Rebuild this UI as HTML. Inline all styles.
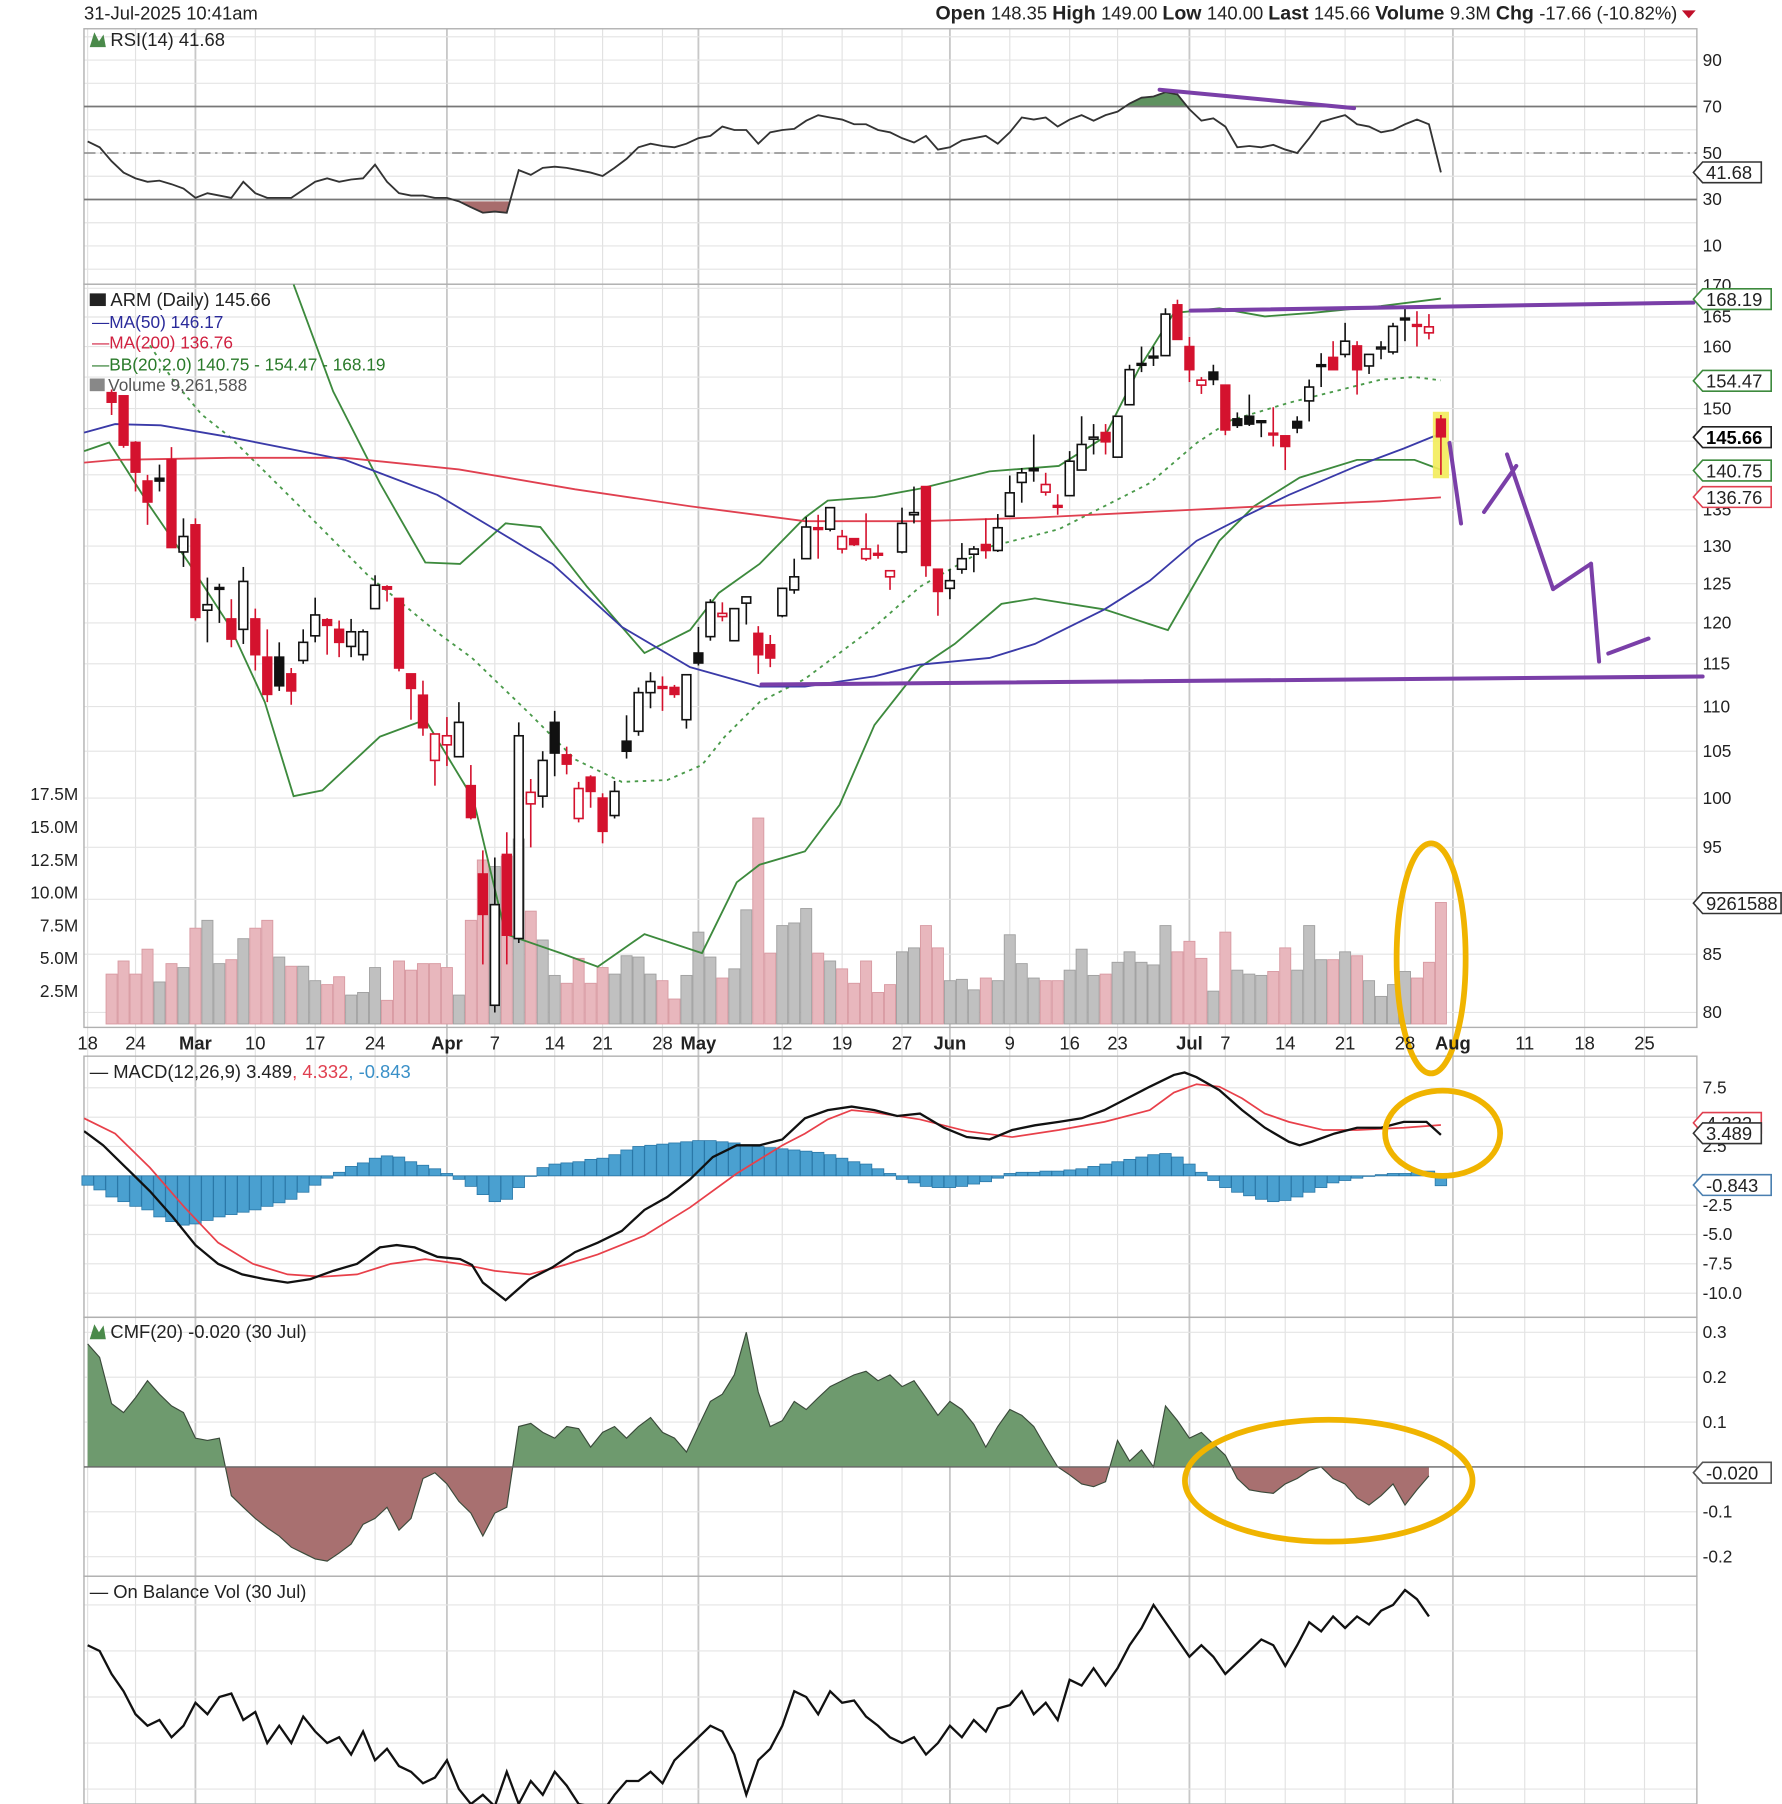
<!DOCTYPE html>
<html><head><meta charset="utf-8"><title>ARM Daily Chart</title>
<style>
html,body{margin:0;padding:0;background:#fff;}
svg{display:block;font-family:"Liberation Sans",sans-serif;}
</style></head>
<body>
<svg id="chart" width="1782" height="1804" viewBox="0 0 1549 1568" preserveAspectRatio="none" xmlns="http://www.w3.org/2000/svg">
<defs>
<clipPath id="clipPrice"><rect x="73" y="247" width="1402" height="646"/></clipPath>
<clipPath id="clipRSI"><rect x="73" y="25" width="1402" height="222"/></clipPath>
<clipPath id="clipMACD"><rect x="73" y="918" width="1402" height="227"/></clipPath>
<clipPath id="clipOBV"><rect x="73" y="1370" width="1402" height="198"/></clipPath>
<clipPath id="rsiHi"><rect x="73" y="25" width="1402" height="68"/></clipPath>
<clipPath id="rsiLo"><rect x="73" y="175" width="1402" height="72"/></clipPath>
<clipPath id="cmfPos"><rect x="73" y="1145" width="1402" height="130"/></clipPath>
<clipPath id="cmfNeg"><rect x="73" y="1275" width="1402" height="95"/></clipPath>
</defs>
<rect x="0" y="0" width="1549" height="1568" fill="#fff"/>
<g id="grid"></g>
<g id="layer"></g>
<g id="anno"></g>
<g id="labels"></g>
</svg>
<script>
// ---------- DATA ----------
const opens=[152.5,152,144.8,139.1,139.5,142.2,129.2,132.9,121.6,124.5,
120.5,119.2,120.5,115.8,115.8,113.8,115.4,118.4,120.4,119.2,
117.1,116.1,121.8,124.6,123.1,113.8,111.3,104,105.7,104.4,
101.3,92.4,80.6,94.3,86.4,99.4,100.2,108.2,104.6,97.9,
102.2,100,98.2,106.1,107.2,111.6,112.3,112.2,108.5,116.3,
118.3,120.8,117.8,122.5,118.7,117.3,120.9,124.2,128.3,132.5,
132.3,129.6,131,128.3,129,125.9,129.2,134.3,138.3,126.9,
124.4,126.9,128.9,130.2,129.4,134.1,138.9,140.9,137.5,135.6,
137,140.7,145.3,146.3,142.6,150.6,157.2,158.4,158.5,167.1,
160,153.7,155.8,153.7,148.4,148.8,148.1,146.2,145.8,148,
151.2,157,158.2,158.7,160.1,156.8,159.8,159.1,164.8,163.7,
162.3,148.35];
const highs=[153,152,145,140,141.5,144.1,133.8,133.8,125.8,125,
123,127.2,121.8,119.2,117.6,114.5,119.2,123.2,120.6,120.3,
120.5,119.2,126.1,124.8,123.1,113.8,113,106.9,108.8,110.5,
103.5,94.7,94,96.5,108.2,102,105,109.5,105.5,101.7,
102.4,100.5,101.8,109,112.2,114,113.5,112.5,113.7,119.5,
123,122.6,121.8,123.3,119.6,118.5,124.4,128.3,134,134.3,
135.3,132.2,131,134.5,130.2,126.7,135.3,138.3,138.3,126.9,
126.9,130.4,130,133.8,134.4,139.9,141,146,140.3,137.2,
143.5,148.8,147.6,147.6,148.8,157,160,160,166.5,168,
161.6,155,157,153.7,149.4,152.2,148.2,150.2,145.8,148.8,
154.6,158.9,160.9,164,160.9,158.7,160.9,164,166.5,166,
165.5,149];
const lows=[149,144,137.6,132.9,137.6,129.8,127.2,120.3,117.6,120,
117,117.4,114.2,110.5,111.8,110.2,115,117.6,116.1,115.8,
115.8,115.4,121.8,122.7,114.1,108.5,106.7,101.3,103.4,104.4,
97.8,84.1,80,84.1,86,95,99,102.3,102.5,97.5,
99,95.4,97.9,104.2,106.7,109.8,109.5,111,107.5,114.8,
117.8,120.2,117.8,119.8,113.8,114.6,120.7,123.7,128.3,128.3,
132,129,130,128,128.3,124.2,129,133.1,125.9,120.9,
123,126.3,126.5,128.3,129.2,134,136,139,137,134.3,
137,141,143,143,142.6,150.6,155.8,156.8,158.5,161.2,
154.2,152.3,153.7,145.9,147,147.3,145.6,144.2,140.7,146.2,
148,153.4,156.2,158.2,152.2,155.5,157.9,158.7,160.9,160,
161.2,140];
const closes=[151,144.4,140.4,136.1,139.1,129.8,131.3,120.7,122.3,124.5,
118,125.3,116.1,111.4,112.4,111.8,117.6,121,119.7,117.6,
118.9,118.9,124.8,124.3,114.5,112.1,107.6,106.9,106.7,108.2,
98,88.6,89.5,86.7,106.7,100.6,104,104.8,103.6,101,
100.7,96.6,100.7,105,111.6,112.9,112.2,111.4,113.7,115.1,
122.6,121.2,121.8,123.3,116.1,115.7,124.4,125.9,132.6,132.3,
135.3,131.3,130.2,129.6,128.9,126.7,133.1,134.6,127.4,124,
125.4,128.3,129.6,129.4,132.5,137.4,140.3,140.6,138.6,135.4,
142,144.5,145.6,144.9,148.8,156.2,157,158.2,165.5,161.2,
156.2,154.5,154.6,146.7,147.4,147.6,148,146,144.2,147,
153.4,156.8,156.2,160.9,156.2,158.7,159.9,163.4,164.7,163.5,
163.32,145.66];
const volumes=[3.8,4.8,3.8,5.7,3.2,4.6,4.3,7.3,7.9,4.6,
4.9,6.5,7.3,7.9,5.1,4.4,4.4,3.3,3.0,3.6,
2.2,2.4,4.3,1.8,4.8,4.1,4.6,4.6,4.3,2.2,
7.9,12.5,12,12.8,14.1,8.6,6.4,3.7,3.1,5.0,
3.1,4.3,3.8,5.2,5.1,3.8,3.3,1.9,3.7,7.0,
5.1,3.5,4.2,8.7,15.7,5.4,7.5,7.7,8.8,5.4,
4.8,4.2,3.1,4.8,2.4,3.0,5.5,5.8,7.5,5.8,
3.3,3.4,2.6,3.5,3.3,6.8,4.6,3.5,3.3,3.3,
4.1,5.7,3.7,3.8,4.7,5.5,4.7,4.5,7.5,5.5,
6.3,5.0,2.5,7.0,4.1,3.8,3.7,4.0,5.8,4.1,
7.5,4.9,4.9,5.5,5.2,3.3,2.1,3.0,4.0,3.5,
4.7,9.26];
const ma50Days=[-2.3,0.3,4.1,9.9,19.5,27.2,32,36.8,42.6,48.3,54.1,57.9,63.7,67.5,73.3,77.1,82.9,86.7,90.6,94.4,98.3,104,107.9,111];
const ma50Vals=[146.3,147.6,147.4,145.6,142.2,137.1,132.3,127.6,119.5,114.6,112.3,112.3,113.5,114.9,115.7,117.4,121.7,125.4,130.7,133.9,137.1,141.3,143.9,146.17];
const ma200Days=[-2.3,0.3,9.9,19.5,29,38.7,48.3,57.9,67.5,77.1,86.7,96.3,105.9,111];
const ma200Vals=[141.8,142.2,142.5,142.5,140.8,137.9,135.5,133.4,133.4,133.9,134.7,135.5,136.2,136.76];
const bbUpDays=[15.2,18.5,22.4,26.2,29.1,32.9,35.8,39.7,42.6,44.5,48.3,50.7,54.1,57.9,59.8,63.7,67.5,73.3,79.1,82.9,85.8,88.7,92.5,96.3,100.2,106,111];
const bbUpVals=[170.7,152.7,138.8,127.8,127.6,133.1,132.6,124.6,119.5,116.3,119.1,123.8,127.6,133.9,136.3,136.8,138,140.5,141.3,145.6,156.4,165.7,166.5,165.1,165.7,166.9,168.19];
const bbLoDays=[-2.3,-0.2,3.2,6.5,9.9,12.8,15.2,17.6,22.4,26.2,30.2,32.9,37.5,40.6,44.5,49.3,52.2,54.1,57.9,60.8,63.7,67.5,70.4,74.3,77.1,82.9,88.2,92.5,95.4,99.2,104,108.8,111];
const bbLoVals=[143.5,144.8,135.5,127.6,119.5,110.5,100.2,100.8,106.6,108.5,99.9,86.8,85.1,83.9,86.8,85.1,91.6,93.3,94.6,99.3,107.9,114.6,117.4,122.4,123.1,121.7,119.1,130.7,135.5,139.6,142.2,142.2,140.75];
const bbMidDays=[3.2,5.1,7.5,9.9,15.7,21.4,27.2,30.1,34.9,38.7,42.6,46.4,49.3,51.2,54.1,57.9,63.7,67.5,73.3,79.1,82.9,86.7,90.6,93.5,98.3,102.1,106,108.8,111];
const bbMidVals=[160.2,154.6,149.1,145.6,135.5,126.1,118.8,115.7,109.2,104.1,101.7,101.9,103.5,106.6,110.5,113.2,119.5,124.6,129.9,132.3,135.5,138.8,144.7,148.2,150.9,152.7,154.6,155,154.47];
const rsiVals=[55,52.5,46.5,41.6,39.1,37.6,38.1,36.6,34.7,30.7,32.7,31.7,30.7,37.6,32.7,30.7,30.7,30.7,34.2,37.6,39.1,37.6,38.6,39.1,45,37.6,32.7,31.7,31.7,30.7,30.7,29.2,26.7,24.3,24.8,24.3,42.6,40.6,43.6,44.1,43.6,42.6,41.6,40.1,43.6,47.5,52.5,54,53,52.5,54,56.4,57.4,61.4,59.9,59.9,54,58.9,59.9,60.4,63.9,66.3,65.3,64.4,62.4,62.4,59.9,58.9,56.4,54.5,57.4,51.5,52.5,55.4,56.4,57.4,54,58.9,65.3,64.4,65.3,61.4,64.4,66.3,63.9,66.3,67.8,71.3,73.8,74.3,76.2,75.2,68.8,63.9,64.9,61.4,52.5,53,52.5,53.5,51.5,50,56.4,63.4,64.9,66.3,62.4,61.4,58.9,59.9,62.4,64.4,62.4,41.68];
const macdDays=[-2.3,-0.7,1.2,3.2,5.1,7,8.9,10.9,12.8,14.7,16.6,18.5,20.5,22.4,23.8,25.3,27.2,29.1,30.1,31,32.9,34.9,36.8,38.7,40.6,42.6,44.5,46.4,48.3,50.2,52.2,54.1,56,57.9,59.8,61.8,63.7,65.6,67.5,69.5,71.4,73.3,75.2,77.1,79.1,81,82.9,84.8,86.7,88.7,89.6,90.6,92.5,94.4,96.3,98.3,99.2,100.2,102.1,104,106,107.9,109.8,111];
const macdVals=[3.8,2.6,0.7,-1.3,-3.5,-5.9,-7.5,-8.4,-8.8,-9.1,-8.8,-8.1,-7.5,-6.1,-5.9,-6.1,-6.9,-7.1,-7.6,-9.1,-10.6,-8.8,-7.8,-6.5,-5.7,-4.7,-2.9,-1.8,-0.3,1.6,2.6,2.6,3.1,4.9,5.6,5.9,5.6,5.1,5.3,4.1,3.3,3.1,3.9,4.3,4.6,4.9,5.6,6.6,7.6,8.6,8.8,8.4,7.3,5.6,4.1,2.9,2.6,2.9,3.6,4.1,4.1,4.6,4.6,3.489];
const signalDays=[-2.3,0.3,3.2,6.1,8.9,11.8,14.7,17.6,20.5,23.3,26.2,29.1,32,34.9,37.8,40.6,44.5,48.3,52.2,56,57.9,59.8,61.8,63.7,67.5,71.4,75.2,79.1,82.9,86.7,88.7,90.6,92.5,94.4,96.3,98.3,101.2,104,107.9,111];
const signalVals=[4.9,3.6,0.7,-2.7,-5.7,-7.5,-8.4,-8.6,-8.4,-7.5,-7.1,-7.5,-8.1,-8.4,-7.6,-6.7,-5.1,-2.7,0.2,2.6,3.6,4.8,5.6,5.4,4.8,3.8,3.3,3.9,4.6,5.6,7.1,7.8,7.6,6.6,5.3,4.6,3.9,3.9,4.1,4.332];
const histVals=[-0.8,-1.2,-1.8,-2.2,-2.6,-2.9,-3.5,-3.9,-4.2,-4.1,-3.8,-3.5,-3.3,-3.1,-2.9,-2.6,-2.3,-2.0,-1.4,-0.8,-0.2,0.3,0.8,1.1,1.5,1.7,1.6,1.2,0.9,0.6,0.2,-0.3,-0.9,-1.6,-2.2,-2.0,-1.0,0.0,0.7,1.0,1.1,1.2,1.4,1.5,1.8,2.2,2.5,2.6,2.7,2.8,2.9,3.0,3.0,2.9,2.8,2.6,2.5,2.4,2.3,2.2,2.1,2.0,1.8,1.5,1.2,1.0,0.6,0.2,-0.3,-0.6,-0.9,-1.0,-1.0,-0.9,-0.7,-0.5,-0.2,0.2,0.3,0.3,0.4,0.4,0.5,0.6,0.8,1.0,1.2,1.4,1.6,1.8,1.9,1.6,1.0,0.3,-0.4,-1.0,-1.4,-1.7,-2.0,-2.2,-2.1,-1.8,-1.4,-1.0,-0.6,-0.4,-0.2,0.0,0.1,0.2,0.2,0.3,0.4,-0.843];
const cmfVals=[0.274,0.244,0.141,0.121,0.154,0.192,0.162,0.136,0.121,0.064,0.059,0.064,-0.064,-0.09,-0.115,-0.136,-0.154,-0.179,-0.192,-0.205,-0.21,-0.192,-0.172,-0.128,-0.115,-0.09,-0.141,-0.115,-0.026,-0.013,-0.038,-0.077,-0.103,-0.154,-0.103,-0.09,0.09,0.097,0.077,0.064,0.09,0.085,0.044,0.077,0.09,0.064,0.09,0.11,0.077,0.064,0.033,0.09,0.146,0.162,0.205,0.30,0.167,0.09,0.103,0.146,0.128,0.154,0.179,0.192,0.205,0.213,0.192,0.205,0.179,0.192,0.154,0.115,0.146,0.128,0.095,0.044,0.09,0.128,0.115,0.09,0.044,0,-0.018,-0.038,-0.044,-0.033,0.059,0.013,0.038,0,0.136,0.103,0.064,0.077,0.051,0.026,-0.026,-0.051,-0.056,-0.059,-0.038,-0.026,-0.008,0,-0.026,-0.038,-0.069,-0.085,-0.064,-0.038,-0.085,-0.051,-0.02];
const obvVals=[35,32.5,22.5,15,5,0,2.5,-5,0,10,5,12.5,14,2.5,6,-7.5,0,-7.5,4,-2.5,-7.5,-5,-12.5,-2.5,-15,-10,-17.5,-20,-25,-22.5,-15,-27.5,-34,-30,-35,-20,-34,-24,-30,-20,-26,-34,-35,-37.5,-30,-24,-24,-20,-25,-15,-10,-5,0,-2.5,-12.5,-30,-15,-10,0,15,12.5,5,15,10,11,4,0,-5,-7.5,-5,-12.5,-7.5,0,-5,2.5,-2.5,7.5,9,15,5,10,2.5,20,17.5,25,17.5,25,35,42.5,52.5,45,37.5,30,35,30,22.5,27.5,32.5,37.5,35,26,35,45,41,47.5,42.5,47.5,44,50,52.5,59,55,47.5];
const priceTicks=[80,85,95,100,105,110,115,120,125,130,135,150,160,165];
const priceGrid=[80,85,90,95,100,105,110,115,120,125,130,135,140,145,150,155,160,165,170];
const rsiTicks=[90,70,50,30,10];
const volTicks=[2.5,5,7.5,10,12.5,15,17.5];
const macdTicks=[7.5,2.5,-2.5,-5,-7.5,-10];
const cmfTicks=[0.3,0.2,0.1,-0.1,-0.2];
const dateLabels=["18","24","Mar","10","17","24","Apr","7","14","21","28","May","12","19","27","Jun","9","16","23","Jul","7","14","21","28","Aug","11","18","25"];
const dateDays=[-2,2,7,12,17,22,28,32,37,41,46,49,56,61,66,70,75,80,84,90,93,98,103,108,112,118,123,128];

// ---------- AXES ----------
const NS="http://www.w3.org/2000/svg";
const L=73,R=1475;
function xDay(d){return 97+d*10.41;}
function yPrice(p){return 880-Math.log(p/80)*835;}
function yRSI(v){return 133-(v-50)*2.02;}
function yVol(v){return 890-v*11.4;}
function yMACD(v){return 1022-v*10.2;}
function yCMF(v){return 1275-v*390;}
function yOBV(v){return 1500-v*2;}
const grid=document.getElementById('grid'),layer=document.getElementById('layer'),anno=document.getElementById('anno'),labels=document.getElementById('labels');
function mk(tag,parent,attrs){const e=document.createElementNS(NS,tag);for(const k in attrs)e.setAttribute(k,attrs[k]);parent.appendChild(e);return e;}
function pts(days,vals,fy){return days.map((d,i)=>xDay(d).toFixed(1)+','+fy(vals[i]).toFixed(1)).join(' ');}

let e;
dateDays.forEach((d,i)=>{
  e=mk('line',grid,{x1:xDay(d),x2:xDay(d),y1:25,y2:1568,stroke:dateLabels[i].length===3?'#c8c8c8':'#e2e2e2','stroke-width':dateLabels[i].length===3?1.6:1});
  
  
});
priceGrid.forEach(p=>{
  e=mk('line',grid,{x1:L,x2:R,y1:yPrice(p),y2:yPrice(p),stroke:'#e4e4e4','stroke-width':1});
  
  
});
for(let v=0;v<=100;v+=10){
  e=mk('line',grid,{x1:L,x2:R,y1:yRSI(v),y2:yRSI(v),stroke:'#e4e4e4'});
  
  
}
for(let v=-10;v<=7.5;v+=2.5){
  e=mk('line',grid,{x1:L,x2:R,y1:yMACD(v),y2:yMACD(v),stroke:'#e4e4e4'});
  
  
}
for(let v=-0.2;v<=0.31;v+=0.1){
  e=mk('line',grid,{x1:L,x2:R,y1:yCMF(v),y2:yCMF(v),stroke:'#e4e4e4'});
  
  
}
for(let y=1395;y<1568;y+=40){
  e=mk('line',grid,{x1:L,x2:R,y1:y,y2:y,stroke:'#e4e4e4'});
  
  
}
[[25,247],[247,893],[918,1145],[1145,1370],[1370,1568]].forEach(p=>{
  e=mk('rect',grid,{x:L,y:p[0],width:R-L,height:p[1]-p[0],fill:'none',stroke:'#b0b0b0','stroke-width':1.2});
  
  
});

// ---------- RSI ----------
const rsiDays=rsiVals.map((v,i)=>111-(rsiVals.length-1-i));
const rsiPoly=pts(rsiDays,rsiVals,yRSI);
const rd0=xDay(rsiDays[0]),rd1=xDay(rsiDays[rsiDays.length-1]);
e=mk('polygon',layer,{points:rd0+','+yRSI(70)+' '+rsiPoly+' '+rd1+','+yRSI(70),fill:'#5f9260','clip-path':'url(#rsiHi)'});


e=mk('polygon',layer,{points:rd0+','+yRSI(30)+' '+rsiPoly+' '+rd1+','+yRSI(30),fill:'#a86c6c','clip-path':'url(#rsiLo)'});


[70,30].forEach(v=>{
  e=mk('line',layer,{x1:L,x2:R,y1:yRSI(v),y2:yRSI(v),stroke:'#777','stroke-width':1.5});
  
  
});
e=mk('line',layer,{x1:L,x2:R,y1:yRSI(50),y2:yRSI(50),stroke:'#888','stroke-width':1.3,'stroke-dasharray':'10,4,2,4'});


e=mk('polyline',layer,{points:rsiPoly,fill:'none',stroke:'#333','stroke-width':1.6,'clip-path':'url(#clipRSI)'});



// ---------- VOLUME ----------
volumes.forEach((v,i)=>{
  const down=i>0&&closes[i]<closes[i-1]||i===0;
  e=mk('rect',layer,{x:xDay(i)-4.8,y:yVol(v),width:9.6,height:890-yVol(v),fill:down?'#e8b7bd':'#c0c0c0',stroke:down?'#d89aa2':'#a0a0a0','stroke-width':0.8});
  
  
});

// ---------- PRICE OVERLAYS ----------
const overlays=[[bbUpDays,bbUpVals,'#3d8a3d',1.6,null,'bb-upper-band'],[bbLoDays,bbLoVals,'#3d8a3d',1.6,null,'bb-lower-band'],[bbMidDays,bbMidVals,'#4a9a4a',1.6,'3,4','bb-middle-band'],[ma200Days,ma200Vals,'#e04050',1.6,null,'ma200-line'],[ma50Days,ma50Vals,'#3a3aa8',1.6,null,'ma50-line']];
overlays.forEach(o=>{
  e=mk('polyline',layer,{points:pts(o[0],o[1],yPrice),fill:'none',stroke:o[2],'stroke-width':o[3],'clip-path':'url(#clipPrice)'});
  if(o[4])e.setAttribute('stroke-dasharray',o[4]);
  
  
});

e=mk('rect',layer,{x:xDay(111)-7,y:yPrice(149.5),width:14,height:yPrice(139.5)-yPrice(149.5),fill:'#f3ec5a','fill-opacity':0.9});



// ---------- CANDLES ----------
opens.forEach((o,i)=>{
  const c=closes[i],h=highs[i],l=lows[i];
  const red=i>0?c<closes[i-1]:true;
  const col=red?'#d4122e':'#111';
  const x=xDay(i);
  e=mk('line',layer,{x1:x,x2:x,y1:yPrice(h),y2:yPrice(l),stroke:col,'stroke-width':1.4});
  
  
  const top=yPrice(Math.max(o,c)),bot=yPrice(Math.min(o,c));
  const hollow=c>o;
  e=mk('rect',layer,{x:x-3.8,y:top,width:7.6,height:Math.max(bot-top,1.5),fill:hollow?'#fff':col,stroke:col,'stroke-width':1.4});
  
  
});

// ---------- MACD ----------
histVals.forEach((v,i)=>{
  const d=111-(histVals.length-1-i);
  const y0=yMACD(0),y1=yMACD(v);
  e=mk('rect',layer,{x:xDay(d)-5,y:Math.min(y0,y1),width:10,height:Math.max(Math.abs(y1-y0),0.5),fill:'#4aa0d0',stroke:'#2a78a8','stroke-width':0.7});
  
  
});
e=mk('polyline',layer,{points:pts(signalDays,signalVals,yMACD),fill:'none',stroke:'#e8404a','stroke-width':1.5,'clip-path':'url(#clipMACD)'});


e=mk('polyline',layer,{points:pts(macdDays,macdVals,yMACD),fill:'none',stroke:'#111','stroke-width':2,'clip-path':'url(#clipMACD)'});



// ---------- CMF ----------
const cmfDays=cmfVals.map((v,i)=>110-(cmfVals.length-1-i));
const cmfPoly=pts(cmfDays,cmfVals,yCMF);
const c0=xDay(cmfDays[0]),c1=xDay(cmfDays[cmfDays.length-1]);
e=mk('polygon',layer,{points:c0+','+yCMF(0)+' '+cmfPoly+' '+c1+','+yCMF(0),fill:'#6e9a6e','clip-path':'url(#cmfPos)'});


e=mk('polygon',layer,{points:c0+','+yCMF(0)+' '+cmfPoly+' '+c1+','+yCMF(0),fill:'#a87070','clip-path':'url(#cmfNeg)'});


e=mk('polyline',layer,{points:cmfPoly,fill:'none',stroke:'#3a4a3a','stroke-width':1});


e=mk('line',layer,{x1:L,x2:R,y1:yCMF(0),y2:yCMF(0),stroke:'#666','stroke-width':1.2});



// ---------- OBV ----------
const obvDays=obvVals.map((v,i)=>110-(obvVals.length-1-i));
e=mk('polyline',layer,{points:pts(obvDays,obvVals,yOBV),fill:'none',stroke:'#111','stroke-width':2,'clip-path':'url(#clipOBV)'});



// ---------- ANNOTATIONS ----------
const purple='#7a3fa8';
[[1008,78,1177,94],[1035,270,1472,263],[662,595,1480,588],[1260,385,1270,455],[1290,445,1318,405],[1310,395,1350,512],[1350,512,1383,490],[1383,490,1390,575],[1398,568,1433,555]].forEach(s=>{
  e=mk('line',anno,{x1:s[0],y1:s[1],x2:s[2],y2:s[3],stroke:purple,'stroke-width':3.5,'stroke-linecap':'round'});
  
  
});
[[1244,833,30,100],[1254,985,50,37],[1155,1287,125,53]].forEach(c=>{
  e=mk('ellipse',anno,{cx:c[0],cy:c[1],rx:c[2],ry:c[3],fill:'none',stroke:'#f0b400','stroke-width':5});
  
  
});

// ---------- LABELS ----------
function txt(x,y,s,attrs,name){
  const t=mk('text',labels,Object.assign({x:x,y:y,'font-size':15,fill:'#222'},attrs||{}));
  t.textContent=s;
  
  
  return t;
}
dateLabels.forEach((s,i)=>{
  txt(xDay(dateDays[i]),912,s,{'text-anchor':'middle','font-size':16,'font-weight':s.length===3?'bold':'normal'},'x-axis-date-label');
});
priceTicks.forEach(p=>{txt(1480,yPrice(p)+5,String(p),{'font-size':15},'price-axis-label');});
txt(1480,253,'170',{'font-size':15},'price-axis-label');
rsiTicks.forEach(v=>{txt(1480,yRSI(v)+5,String(v),{'font-size':15},'rsi-axis-label');});
volTicks.forEach(v=>{txt(68,yVol(v)+5,v.toFixed(1)+'M',{'font-size':15,'text-anchor':'end'},'volume-axis-label');});
macdTicks.forEach(v=>{txt(1480,yMACD(v)+5,v.toFixed(1),{'font-size':15},'macd-axis-label');});
cmfTicks.forEach(v=>{txt(1480,yCMF(v)+5,v.toFixed(1),{'font-size':15},'cmf-axis-label');});

function tag(y,s,col,bold,name){
  const g=mk('g',labels,{});
  
  
  const w=s.length*8.6+8;
  e=mk('polygon',g,{points:(1472)+','+y+' '+(1480)+','+(y-9)+' '+(1480+w)+','+(y-9)+' '+(1480+w)+','+(y+9)+' '+(1480)+','+(y+9),fill:'#fff',stroke:col,'stroke-width':1.4});
  
  
  const t=mk('text',g,{x:1483,y:y+6,'font-size':16,fill:bold?'#000':'#222','font-weight':bold?'bold':'normal'});
  t.textContent=s;
  
  
}
tag(yRSI(41.68),'41.68','#333',false,'rsi-value-tag');
tag(260,'168.19','#3d8a3d',false,'bb-upper-tag');
tag(331,'154.47','#3d8a3d',false,'bb-middle-tag');
tag(380,'145.66','#222',true,'last-price-tag');
tag(409,'140.75','#3d8a3d',false,'bb-lower-tag');
tag(432,'136.76','#e04050',false,'ma200-tag');
tag(785,'9261588','#333',false,'volume-tag');
tag(976,'4.332','#e04050',false,'macd-signal-tag');
tag(985,'3.489','#333',false,'macd-value-tag');
tag(1030,'-0.843','#4a7fb0',false,'macd-hist-tag');
tag(1280,'-0.020','#555',false,'cmf-value-tag');

txt(73,17,'31-Jul-2025 10:41am',{'font-size':16},'chart-date');
const hdr=mk('text',labels,{x:1458,y:17,'font-size':16,'text-anchor':'end',fill:'#222'});


[['Open ',1],['148.35  ',0],['High ',1],['149.00  ',0],['Low ',1],['140.00  ',0],['Last ',1],['145.66  ',0],['Volume ',1],['9.3M  ',0],['Chg ',1],['-17.66 (-10.82%)',0]].forEach(p=>{
  const s=mk('tspan',hdr,{'font-weight':p[1]?'bold':'normal','font-size':p[1]?17:16});
  s.textContent=p[0];
  
  
});
e=mk('polygon',labels,{points:'1462,9 1474,9 1468,16',fill:'#c0102a'});



txt(96,40,'RSI(14) 41.68',{'font-size':16},'rsi-legend');
txt(96,266,'ARM (Daily) 145.66',{'font-size':16},'price-legend');
txt(80,285,'\u2014MA(50) 146.17',{'font-size':15,fill:'#2a2a9a'},'ma50-legend');
txt(80,303,'\u2014MA(200) 136.76',{'font-size':15,fill:'#d02040'},'ma200-legend');
txt(80,322,'\u2014BB(20,2.0) 140.75 - 154.47 - 168.19',{'font-size':15,fill:'#2a7a2a'},'bb-legend');
txt(94,340,'Volume 9,261,588',{'font-size':15,fill:'#555'},'volume-legend');
const ml=mk('text',labels,{x:78,y:937,'font-size':16,fill:'#222'});


[['\u2014 MACD(12,26,9) 3.489','#222'],[', 4.332','#e04050'],[', -0.843','#3a90c8']].forEach(p=>{
  const s=mk('tspan',ml,{fill:p[1]});
  s.textContent=p[0];
  
  
});
txt(96,1163,'CMF(20) -0.020 (30 Jul)',{'font-size':16},'cmf-legend');
txt(78,1389,'\u2014 On Balance Vol (30 Jul)',{'font-size':16},'obv-legend');
e=mk('polygon',labels,{points:'78,41 82,28 86,36 90,30 92,41',fill:'#4a8a4a'});


e=mk('polygon',labels,{points:'78,1164 82,1151 86,1158 90,1152 92,1164',fill:'#4a8a4a'});


e=mk('rect',labels,{x:78,y:255,width:14,height:11,fill:'#222'});


e=mk('rect',labels,{x:78,y:329,width:13,height:11,fill:'#888'});


</script>
</body></html>
